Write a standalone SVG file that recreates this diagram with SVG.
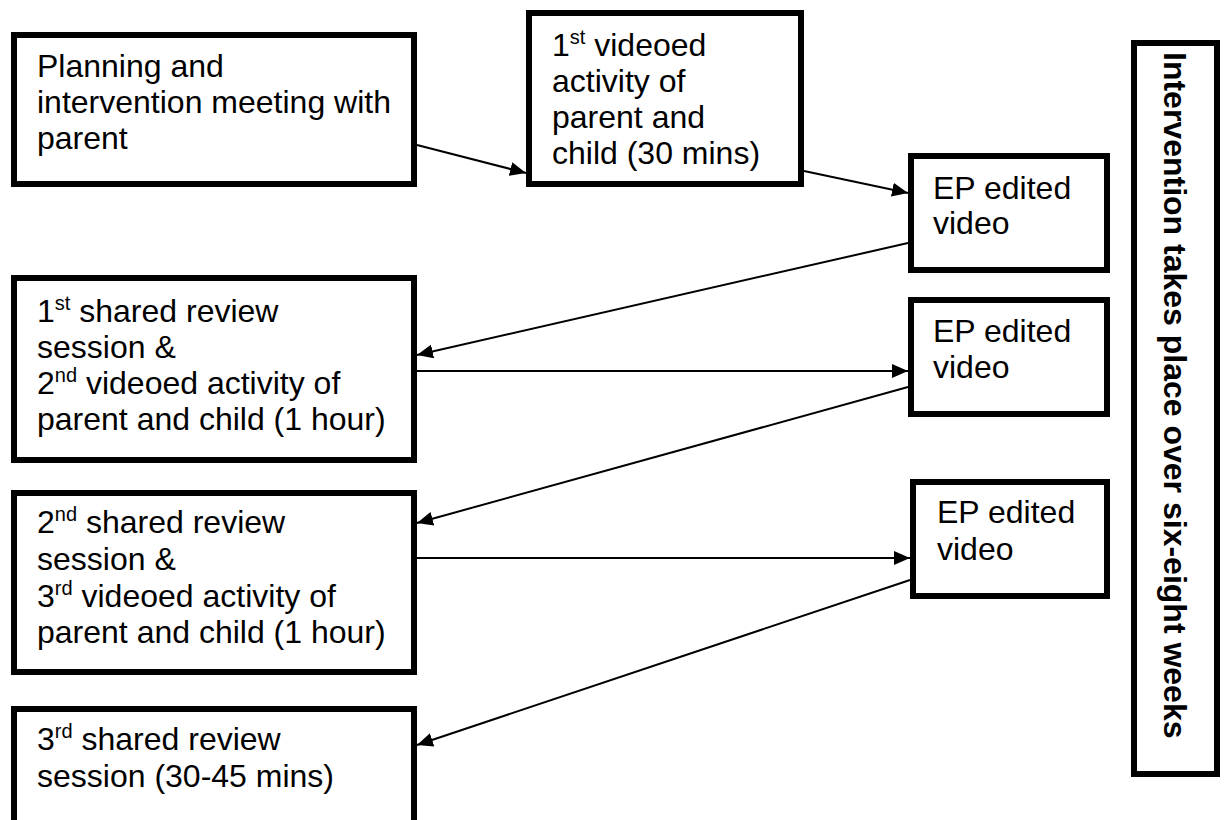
<svg xmlns="http://www.w3.org/2000/svg" width="1224" height="820" viewBox="0 0 1224 820">
  <style>
    .box { fill: #ffffff; stroke: #000000; stroke-width: 6; }
    .lbl { font-family: "Liberation Sans", Arial, sans-serif; font-size: 32px; fill: #000000; }
    .side { font-family: "Liberation Sans", Arial, sans-serif; font-size: 32px; font-weight: bold; fill: #000000; }
    .sup { font-size: 20px; }
    .conn { stroke: #000000; stroke-width: 2; fill: none; marker-end: url(#arrow); }
  </style>
  <defs>
    <marker id="arrow" markerUnits="userSpaceOnUse" markerWidth="18" markerHeight="14" refX="16" refY="7" orient="auto">
      <path d="M0,0 L16,7 L0,14 Z" fill="#000000"/>
    </marker>
  </defs>

  <rect width="1224" height="820" fill="#ffffff"/>

  <!-- connectors -->
  <g id="connectors">
    <line class="conn" x1="417" y1="145" x2="526" y2="173"/>
    <line class="conn" x1="804" y1="171" x2="908" y2="193"/>
    <line class="conn" x1="908" y1="243" x2="417" y2="355"/>
    <line class="conn" x1="417" y1="371" x2="908" y2="371"/>
    <line class="conn" x1="908" y1="387" x2="417" y2="523"/>
    <line class="conn" x1="417" y1="558" x2="910" y2="558"/>
    <line class="conn" x1="910" y1="580" x2="417" y2="745"/>
  </g>

  <g id="planning">
    <rect class="box" x="14" y="35" width="400" height="149"/>
    <text class="lbl" x="37" y="77">Planning and</text>
    <text class="lbl" x="37" y="113">intervention meeting with</text>
    <text class="lbl" x="37" y="149">parent</text>
  </g>

  <g id="video1">
    <rect class="box" x="529" y="13" width="272" height="171"/>
    <text class="lbl" x="552" y="56">1<tspan class="sup" dy="-12">st</tspan><tspan dy="12"> videoed</tspan></text>
    <text class="lbl" x="552" y="92">activity of</text>
    <text class="lbl" x="552" y="128">parent and</text>
    <text class="lbl" x="552" y="164">child (30 mins)</text>
  </g>

  <g id="edit1">
    <rect class="box" x="911" y="156" width="196" height="114"/>
    <text class="lbl" x="933" y="199">EP edited</text>
    <text class="lbl" x="933" y="234">video</text>
  </g>

  <g id="review1">
    <rect class="box" x="14" y="278" width="400" height="182"/>
    <text class="lbl" x="37" y="322">1<tspan class="sup" dy="-12">st</tspan><tspan dy="12"> shared review</tspan></text>
    <text class="lbl" x="37" y="358">session &amp;</text>
    <text class="lbl" x="37" y="394">2<tspan class="sup" dy="-12">nd</tspan><tspan dy="12"> videoed activity of</tspan></text>
    <text class="lbl" x="37" y="430">parent and child (1 hour)</text>
  </g>

  <g id="edit2">
    <rect class="box" x="911" y="300" width="196" height="114"/>
    <text class="lbl" x="933" y="342">EP edited</text>
    <text class="lbl" x="933" y="378">video</text>
  </g>

  <g id="review2">
    <rect class="box" x="14" y="493" width="400" height="179"/>
    <text class="lbl" x="37" y="533">2<tspan class="sup" dy="-12">nd</tspan><tspan dy="12"> shared review</tspan></text>
    <text class="lbl" x="37" y="570">session &amp;</text>
    <text class="lbl" x="37" y="607">3<tspan class="sup" dy="-12">rd</tspan><tspan dy="12"> videoed activity of</tspan></text>
    <text class="lbl" x="37" y="643">parent and child (1 hour)</text>
  </g>

  <g id="edit3">
    <rect class="box" x="913" y="482" width="194" height="114"/>
    <text class="lbl" x="937" y="523">EP edited</text>
    <text class="lbl" x="937" y="560">video</text>
  </g>

  <g id="review3">
    <rect class="box" x="14" y="709" width="400" height="120"/>
    <text class="lbl" x="37" y="750">3<tspan class="sup" dy="-12">rd</tspan><tspan dy="12"> shared review</tspan></text>
    <text class="lbl" x="37" y="787">session (30-45 mins)</text>
  </g>

  <g id="timeframe">
    <rect class="box" x="1134" y="43" width="83" height="731"/>
    <text class="side" transform="translate(1164,52) rotate(90)">Intervention takes place over six-eight weeks</text>
  </g>
</svg>
